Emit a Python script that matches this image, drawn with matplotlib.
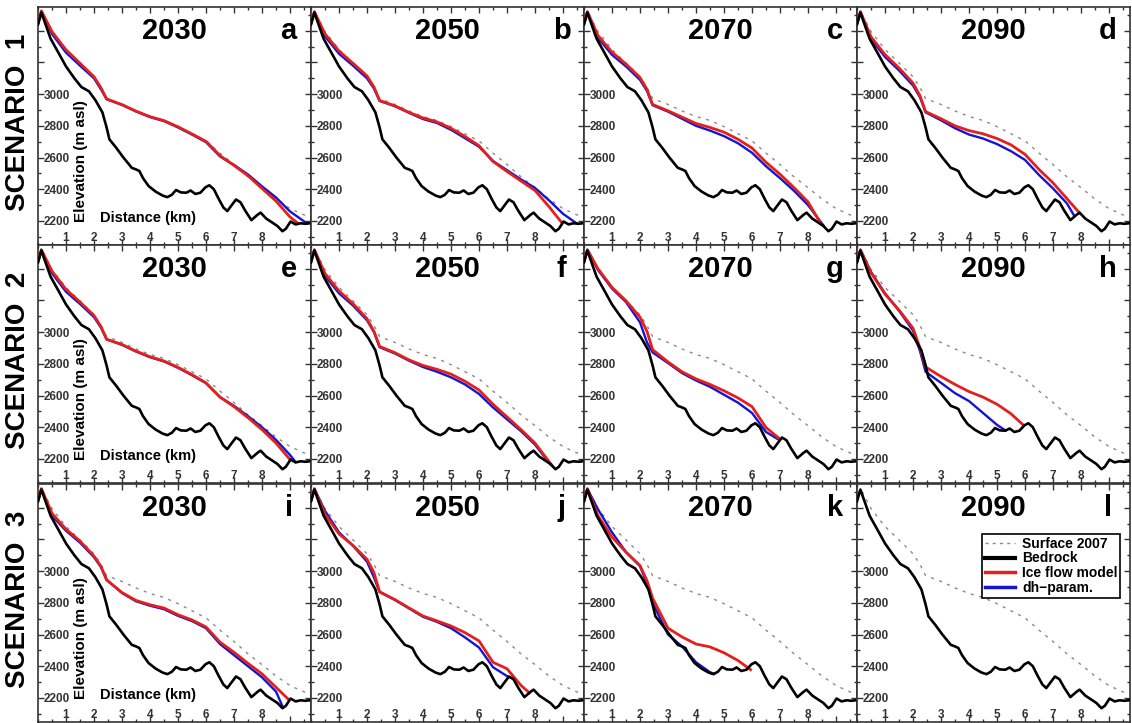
import numpy as np
import matplotlib
matplotlib.use('Agg')
import matplotlib.pyplot as plt
from matplotlib.lines import Line2D
from matplotlib.ticker import MultipleLocator, FixedLocator, FixedFormatter

plt.rcParams['font.family'] = ['Liberation Sans', 'DejaVu Sans']

# bedrock profile along the flowline (km, m asl)
BED_KM = [0.0, 0.12, 0.45, 0.75, 1.0, 1.3, 1.55, 1.82, 2.05, 2.3, 2.45, 2.55, 2.8, 3.05, 3.35,
          3.5, 3.62, 3.75, 3.95, 4.2, 4.45, 4.62, 4.78, 4.93, 5.1, 5.3, 5.45, 5.62, 5.8, 5.98,
          6.12, 6.28, 6.45, 6.62, 6.76, 6.92, 7.07, 7.23, 7.4, 7.62, 7.85, 7.95, 8.15, 8.38,
          8.55, 8.73, 8.85, 9.02, 9.2, 9.38, 9.55, 9.75]
BED_Z = [3440, 3515, 3350, 3255, 3175, 3100, 3045, 3018, 2962, 2885, 2790, 2715, 2660, 2600, 2535,
         2525, 2515, 2470, 2420, 2385, 2360, 2350, 2365, 2395, 2380, 2378, 2392, 2370, 2378, 2412,
         2425, 2400, 2340, 2285, 2262, 2300, 2335, 2318, 2265, 2205, 2240, 2252, 2215, 2188,
         2168, 2135, 2150, 2196, 2178, 2185, 2182, 2186]

# surface 2007
S07_KM = [0.0, 0.12, 0.5, 1.0, 1.5, 2.0, 2.25, 2.45, 3.0, 3.5, 4.0, 4.5, 5.0, 5.5, 6.0, 6.5,
          7.0, 7.5, 8.0, 8.5, 9.0, 9.5, 9.75]
S07_Z = [3445, 3525, 3395, 3282, 3197, 3110, 3042, 2972, 2935, 2894, 2859, 2834, 2795, 2750,
         2705, 2628, 2556, 2478, 2410, 2338, 2278, 2238, 2222]

# future surfaces, sampled on KM up to the terminus; END = [model km, model z, dh km, dh z]
KM = [0.0, 0.12, 0.5, 1.0, 1.5, 2.0, 2.25, 2.45, 3.0, 3.5, 4.0, 4.5, 5.0, 5.5, 6.0, 6.5,
      7.0, 7.5, 8.0, 8.5, 9.0, 9.5]

# scenario 1
MODEL_A = [3445, 3525, 3395, 3280, 3195, 3110, 3040, 2970, 2934, 2893, 2858, 2833, 2794, 2749,
           2702, 2612, 2550, 2485, 2405, 2325, 2225]
DH_A = [3445, 3525, 3380, 3262, 3180, 3100, 3030, 2968, 2932, 2891, 2855, 2830, 2790, 2745,
        2697, 2607, 2553, 2493, 2418, 2348, 2260]
END_A = [9.25, 2190, 9.6, 2185]
MODEL_B = [3445, 3520, 3380, 3272, 3195, 3115, 3045, 2960, 2926, 2885, 2850, 2825, 2785, 2733,
           2675, 2575, 2512, 2452, 2392, 2290]
DH_B = [3445, 3520, 3365, 3255, 3180, 3100, 3035, 2957, 2924, 2882, 2843, 2818, 2775, 2722,
        2668, 2578, 2520, 2462, 2408, 2330, 2245]
END_B = [8.95, 2190, 9.5, 2183]
MODEL_C = [3445, 3520, 3370, 3265, 3190, 3105, 3030, 2935, 2895, 2855, 2815, 2790, 2760, 2715,
           2660, 2570, 2495, 2410, 2320]
DH_C = [3445, 3520, 3355, 3248, 3175, 3090, 3020, 2930, 2890, 2845, 2800, 2770, 2735, 2690,
        2630, 2545, 2470, 2390, 2300]
END_C = [8.45, 2185, 8.55, 2172]
MODEL_D = [3445, 3520, 3362, 3250, 3165, 3070, 2990, 2890, 2845, 2800, 2770, 2750, 2720, 2680,
           2620, 2525, 2440, 2340]
DH_D = [3445, 3520, 3348, 3235, 3150, 3055, 2980, 2885, 2835, 2785, 2745, 2720, 2685, 2640,
        2585, 2490, 2405, 2310]
END_D = [7.95, 2250, 7.75, 2235]

# scenario 2
MODEL_E = [3445, 3520, 3385, 3270, 3190, 3105, 3035, 2955, 2922, 2880, 2845, 2818, 2778, 2732,
           2680, 2590, 2530, 2460, 2385, 2300]
DH_E = [3445, 3520, 3372, 3255, 3178, 3095, 3028, 2955, 2920, 2878, 2842, 2815, 2775, 2728,
        2678, 2590, 2535, 2470, 2400, 2320, 2225]
END_E = [9.0, 2196, 9.2, 2180]
MODEL_F = [3445, 3520, 3370, 3260, 3180, 3085, 3005, 2910, 2870, 2825, 2790, 2765, 2735, 2690,
           2635, 2545, 2465, 2385, 2300]
DH_F = [3445, 3520, 3355, 3245, 3168, 3075, 3000, 2905, 2865, 2820, 2780, 2750, 2715, 2670,
        2610, 2525, 2450, 2375, 2290]
END_F = [8.6, 2160, 8.55, 2165]
MODEL_G = [3445, 3520, 3400, 3283, 3198, 3095, 3005, 2890, 2812, 2750, 2705, 2670, 2630, 2585,
           2530, 2398]
DH_G = [3445, 3520, 3392, 3275, 3190, 3062, 2935, 2872, 2805, 2742, 2695, 2655, 2605, 2555,
        2490, 2370]
END_G = [7.0, 2325, 6.95, 2322]
MODEL_H = [3445, 3520, 3375, 3240, 3140, 3025, 2900, 2780, 2720, 2670, 2625, 2590, 2545, 2485]
DH_H = [3445, 3520, 3380, 3245, 3135, 3010, 2880, 2750, 2680, 2615, 2565, 2490, 2415]
END_H = [5.95, 2412, 5.3, 2380]

# scenario 3
MODEL_I = [3445, 3520, 3365, 3265, 3190, 3095, 3030, 2945, 2865, 2815, 2788, 2767, 2725, 2692,
           2648, 2552, 2488, 2418, 2352, 2267]
DH_I = [3445, 3520, 3350, 3255, 3180, 3088, 3025, 2945, 2862, 2810, 2782, 2760, 2718, 2685,
        2640, 2540, 2470, 2400, 2330, 2240]
END_I = [8.95, 2190, 8.75, 2140]
MODEL_J = [3445, 3520, 3360, 3235, 3162, 3075, 2990, 2870, 2820, 2768, 2717, 2686, 2654, 2612,
           2560, 2425, 2384, 2279]
DH_J = [3445, 3520, 3380, 3245, 3160, 3060, 2960, 2868, 2818, 2765, 2712, 2680, 2640, 2582,
        2518, 2394]
END_J = [7.8, 2232, 7.05, 2332]
MODEL_K = [3445, 3520, 3350, 3215, 3120, 3035, 2940, 2830, 2640, 2585, 2540, 2522, 2485, 2436]
DH_K = [3445, 3520, 3390, 3245, 3120, 3032, 2920, 2800, 2600, 2525, 2425, 2362]
END_K = [5.95, 2378, 4.65, 2352]
MODEL_L = []
DH_L = []
END_L = []

YEARS = ['2030', '2050', '2070', '2090']
LETTERS = ['a', 'b', 'c', 'd', 'e', 'f', 'g', 'h', 'i', 'j', 'k', 'l']
SCENARIOS = ['SCENARIO  1', 'SCENARIO  2', 'SCENARIO  3']

MODELS = [MODEL_A, MODEL_B, MODEL_C, MODEL_D, MODEL_E, MODEL_F,
          MODEL_G, MODEL_H, MODEL_I, MODEL_J, MODEL_K, MODEL_L]
DHS = [DH_A, DH_B, DH_C, DH_D, DH_E, DH_F, DH_G, DH_H, DH_I, DH_J, DH_K, DH_L]
ENDS = [END_A, END_B, END_C, END_D, END_E, END_F, END_G, END_H, END_I, END_J, END_K, END_L]

RED = '#e3201b'
BLUE = '#1414d2'
GREY = '#8a8a8a'

W, H = 1132, 723
lefts = [38, 311, 584, 857]
tops = [7, 245, 484]
pw, ph = 273, 238

fig = plt.figure(figsize=(W / 100, H / 100), dpi=100)

for r in range(3):
    for c in range(4):
        k = r * 4 + c
        ax = fig.add_axes([lefts[c] / W, 1 - (tops[r] + ph) / H, pw / W, ph / H])

        ax.plot(S07_KM, S07_Z, color=GREY, lw=1.0, ls=(0, (2.2, 4.0)), zorder=1)
        model, dh, end = MODELS[k], DHS[k], ENDS[k]
        if dh:
            ax.plot(KM[:len(dh)] + [end[2]], dh + [end[3]], color=BLUE, lw=1.7, zorder=2)
        if model:
            ax.plot(KM[:len(model)] + [end[0]], model + [end[1]], color=RED, lw=2.0, zorder=3)
        ax.plot(BED_KM, BED_Z, color='black', lw=1.9, zorder=4)

        ax.set_xlim(0, 9.75)
        ax.set_ylim(2048, 3550)

        ax.xaxis.set_major_locator(FixedLocator(range(1, 10)))
        ax.xaxis.set_major_formatter(FixedFormatter([str(i) for i in range(1, 9)] + ['']))
        ax.xaxis.set_minor_locator(MultipleLocator(0.5))
        ax.yaxis.set_major_locator(FixedLocator(range(2200, 3500, 200)))
        ax.yaxis.set_major_formatter(FixedFormatter([str(v) for v in range(2200, 3100, 200)] + ['', '']))
        ax.yaxis.set_minor_locator(MultipleLocator(100))

        ax.tick_params(which='both', direction='in', top=True, right=True,
                       colors='#333333', width=1.0)
        ax.tick_params(which='major', length=4.5)
        ax.tick_params(which='minor', length=2.5)
        ax.tick_params(axis='x', pad=-9.5, labelsize=8.5)
        ax.tick_params(axis='y', pad=-4, labelsize=8.5)
        for lab in ax.get_yticklabels():
            lab.set_horizontalalignment('left')
            lab.set_fontweight('bold')
        for lab in ax.get_xticklabels():
            lab.set_fontweight('bold')
        for sp in ax.spines.values():
            sp.set_linewidth(1.2)
            sp.set_color('#333333')

        ax.text(0.498, 0.9, YEARS[c], transform=ax.transAxes, fontsize=21,
                fontweight='bold', ha='center', va='center')
        ax.text(0.918, 0.9, LETTERS[k], transform=ax.transAxes, fontsize=21,
                fontweight='bold', ha='center', va='center')

        if c == 0:
            ax.text(0.157, 0.095, 'Elevation (m asl)', transform=ax.transAxes, rotation=90,
                    fontsize=11, fontweight='bold', ha='center', va='bottom')
            ax.text(0.227, 0.112, 'Distance (km)', transform=ax.transAxes,
                    fontsize=10.5, fontweight='bold', ha='left', va='center')

        if k == 11:
            handles = [Line2D([], [], color=GREY, lw=1.0, ls=(0, (2.2, 3.0))),
                       Line2D([], [], color='black', lw=3.0),
                       Line2D([], [], color=RED, lw=2.5),
                       Line2D([], [], color=BLUE, lw=2.5)]
            leg = ax.legend(handles, ['Surface 2007', 'Bedrock', 'Ice flow model', 'dh\u2212param.'],
                            loc='upper right', bbox_to_anchor=(0.965, 0.79),
                            frameon=True, fancybox=False, edgecolor='black', framealpha=1,
                            borderpad=0.2, labelspacing=0.05, handlelength=2.2,
                            handletextpad=0.5, borderaxespad=0,
                            prop={'weight': 'bold', 'size': 10})
            leg.get_frame().set_linewidth(1.2)

for r in range(3):
    yc = 1 - (tops[r] + ph / 2 - 4) / H
    fig.text(18 / W, yc, SCENARIOS[r], rotation=90, fontsize=20, fontweight='bold',
             ha='center', va='center')

fig.savefig('out.png', dpi=100, facecolor='white')
